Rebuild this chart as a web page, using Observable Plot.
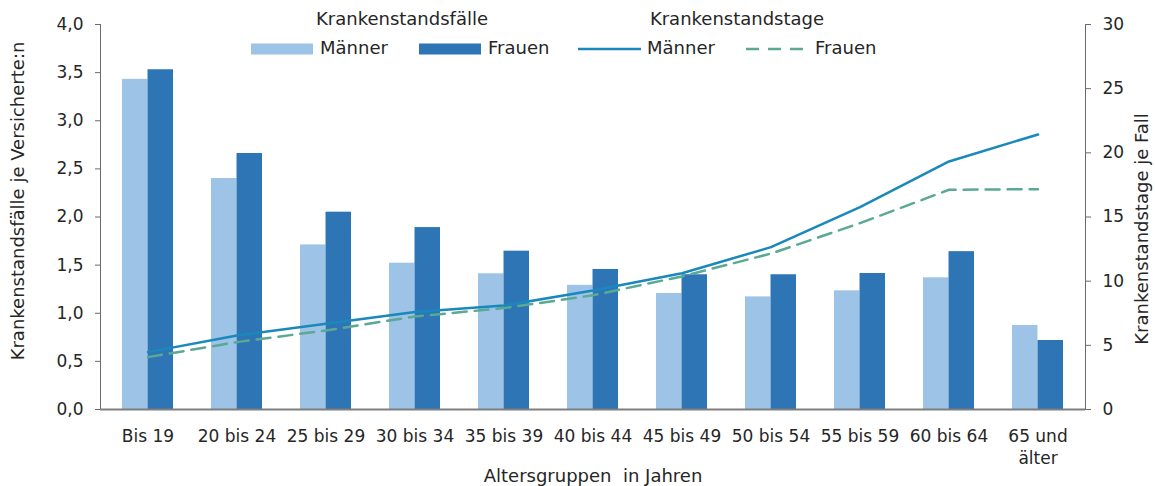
<!DOCTYPE html>
<html>
<head>
<meta charset="utf-8">
<script src="https://cdn.jsdelivr.net/npm/d3@7"></script>
<script src="https://cdn.jsdelivr.net/npm/@observablehq/plot@0.6"></script>
<style>
  html, body { margin: 0; padding: 0; background: #fff; }
  #wrap { position: relative; width: 1155px; height: 486px; font-family: "DejaVu Sans", sans-serif; color: #262626; }
  #legend { position: absolute; left: 0; top: 0; }
</style>
</head>
<body>
<div id="wrap"></div>
<script>
const categories = ["Bis 19", "20 bis 24", "25 bis 29", "30 bis 34", "35 bis 39", "40 bis 44", "45 bis 49", "50 bis 54", "55 bis 59", "60 bis 64", "65 und älter"];
const faelleMaenner = [3.43, 2.40, 1.71, 1.52, 1.41, 1.29, 1.205, 1.17, 1.233, 1.368, 0.873];
const faelleFrauen  = [3.53, 2.66, 2.05, 1.89, 1.645, 1.455, 1.40, 1.40, 1.413, 1.64, 0.717];
const tageMaenner   = [4.47, 5.77, 6.68, 7.6, 8.1, 9.27, 10.62, 12.65, 15.77, 19.33, 21.43];
const tageFrauen    = [4.08, 5.25, 6.16, 7.25, 7.9, 8.9, 10.37, 12.15, 14.52, 17.12, 17.17];
const leftTicks  = [0, 0.5, 1, 1.5, 2, 2.5, 3, 3.5, 4];
const rightTicks = [0, 5, 10, 15, 20, 25, 30];

const colMaennerBar = "#9dc3e6", colFrauenBar = "#2e75b6";
const colMaennerLine = "#1a88bd", colFrauenLine = "#5ba895";
const textColor = "#262626";

const W = 1155, H = 486, ML = 100, MR = 70, MT = 24, MB = 77;
const pad = 0.43;
const bw = (W - ML - MR) / categories.length * (1 - pad);
const k = 4 / 30; // right scale -> left scale

const rows = categories.map((c, i) => ({c, fm: faelleMaenner[i], ff: faelleFrauen[i], tm: tageMaenner[i] * k, tf: tageFrauen[i] * k}));
const fmt = d => d3.format(".1f")(d).replace(".", ",");

const chart = Plot.plot({
  width: W, height: H,
  marginLeft: ML, marginRight: MR, marginTop: MT, marginBottom: MB,
  style: {fontFamily: "DejaVu Sans, sans-serif", fontSize: "17px", color: textColor, background: "#fff"},
  x: {domain: categories, paddingInner: pad, paddingOuter: pad / 2, label: null},
  y: {domain: [0, 4], label: null},
  marks: [
    Plot.barY(rows, {x: "c", y: "fm", fill: colMaennerBar, insetRight: bw / 2}),
    Plot.barY(rows, {x: "c", y: "ff", fill: colFrauenBar, insetLeft: bw / 2}),
    Plot.line(rows, {x: "c", y: "tm", stroke: colMaennerLine, strokeWidth: 2.5}),
    Plot.line(rows, {x: "c", y: "tf", stroke: colFrauenLine, strokeWidth: 2.5, strokeDasharray: "14,8"}),
    Plot.frame({anchor: "left", stroke: "#6b6b6b"}),
    Plot.frame({anchor: "right", stroke: "#6b6b6b"}),
    Plot.ruleY([0], {stroke: "#7f7f7f", strokeWidth: 2}),
    Plot.axisY(leftTicks, {anchor: "left", tickFormat: fmt, tickSize: 5, tickPadding: 12, label: null, fontSize: 17, stroke: "#6b6b6b"}),
    Plot.axisY(rightTicks.map(t => t * k), {anchor: "right", tickFormat: d => String(Math.round(d / k)), tickSize: 5, tickPadding: 12, label: null, fontSize: 17, stroke: "#6b6b6b"}),
    Plot.axisX({tickSize: 0, tickPadding: 17, label: null, fontSize: 17, lineHeight: 1.3, tickFormat: d => d.replace(" und ", " und\n")}),
    Plot.text(["Krankenstandsfälle je Versicherte:n"], {frameAnchor: "left", textAnchor: "middle", lineAnchor: "middle", dx: -82, dy: -16, rotate: -90, fontSize: 18, fill: textColor}),
    Plot.text(["Krankenstandstage je Fall"], {frameAnchor: "right", textAnchor: "middle", lineAnchor: "middle", dx: 57, dy: 12, rotate: -90, fontSize: 18, fill: textColor}),
    Plot.text(["Altersgruppen  in Jahren"], {frameAnchor: "bottom", textAnchor: "middle", lineAnchor: "middle", dy: 67, fontSize: 18, fill: textColor})
  ]
});
document.getElementById("wrap").appendChild(chart);

// Legend overlay
const legendItems = [
  {type: "rect", color: colMaennerBar, label: "Männer", x: 251},
  {type: "rect", color: colFrauenBar, label: "Frauen", x: 419},
  {type: "line", color: colMaennerLine, label: "Männer", x: 578},
  {type: "dash", color: colFrauenLine, label: "Frauen", x: 746}
];
const legendTitles = [{label: "Krankenstandsfälle", x: 402}, {label: "Krankenstandstage", x: 737}];
const svg = d3.select("#wrap").append("svg").attr("id", "legend").attr("width", W).attr("height", 70)
  .style("font-family", "DejaVu Sans, sans-serif").style("font-size", "18px");
svg.selectAll("text.t").data(legendTitles).join("text").attr("class", "t")
  .attr("x", d => d.x).attr("y", 20).attr("text-anchor", "middle").attr("dominant-baseline", "middle")
  .attr("fill", textColor).text(d => d.label);
const g = svg.selectAll("g.i").data(legendItems).join("g").attr("class", "i").attr("transform", d => `translate(${d.x},49)`);
g.filter(d => d.type === "rect").append("rect").attr("x", 0).attr("y", -5.5).attr("width", 62).attr("height", 11).attr("fill", d => d.color);
g.filter(d => d.type !== "rect").append("line").attr("x1", 0).attr("x2", 63).attr("y1", 0).attr("y2", 0)
  .attr("stroke", d => d.color).attr("stroke-width", 2.5).attr("stroke-dasharray", d => d.type === "dash" ? "13,9" : null);
g.append("text").attr("x", 69).attr("y", 0).attr("dominant-baseline", "middle").attr("fill", textColor).text(d => d.label);
</script>
</body>
</html>
